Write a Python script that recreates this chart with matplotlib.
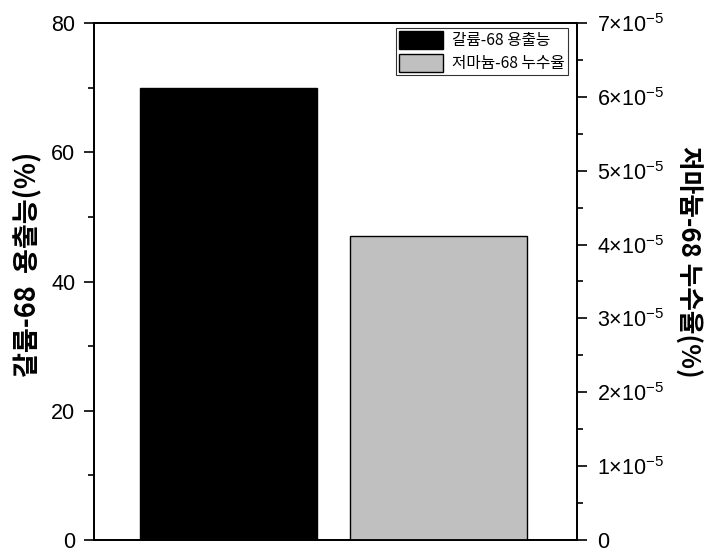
import matplotlib
matplotlib.use("Agg")
import matplotlib.pyplot as plt
from matplotlib.ticker import MultipleLocator, FuncFormatter
from matplotlib.patches import Patch

plt.rcParams['font.family'] = ['Liberation Sans', 'Noto Sans CJK KR', 'DejaVu Sans']
plt.rcParams['mathtext.fontset'] = 'custom'
plt.rcParams['mathtext.rm'] = 'Liberation Sans'
plt.rcParams['mathtext.it'] = 'Liberation Sans'

labels = ['갈륨-68 용출능', '저마늄-68 누수율']
elution = 70.0          # left axis, %
breakthrough = 4.12e-5  # right axis, %
left_label = '갈륨-68  용출능(%)'
right_label = '저마늄-68 누수율(%)'

fig = plt.figure(figsize=(7.12, 5.58), dpi=100)
ax = fig.add_axes([94/712, 1-540/558, (577-94)/712, (540-23)/558])
ax2 = ax.twinx()

ax.bar([0], [elution], width=0.84, color='black', edgecolor='black', linewidth=1, zorder=2)
ax2.bar([1], [breakthrough], width=0.84, color='#c0c0c0', edgecolor='black', linewidth=1, zorder=2)

ax.set_xlim(-0.64, 1.66)
ax.set_ylim(0, 80)
ax2.set_ylim(0, 7e-5)
ax.set_xticks([])

ax.yaxis.set_major_locator(MultipleLocator(20))
ax.yaxis.set_minor_locator(MultipleLocator(10))
ax2.yaxis.set_major_locator(MultipleLocator(1e-5))
ax2.yaxis.set_minor_locator(MultipleLocator(0.5e-5))

def sci(v, pos):
    n = int(round(v / 1e-5))
    if n == 0:
        return '0'
    return r'$%d{\times}10^{-5}$' % n

ax2.yaxis.set_major_formatter(FuncFormatter(sci))

for a in (ax, ax2):
    a.tick_params(axis='y', which='major', direction='out', length=7.5, width=1.2, labelsize=15.5, pad=6)
    a.tick_params(axis='y', which='minor', direction='out', length=4.5, width=1.2)
    for s in a.spines.values():
        s.set_linewidth(1.3)
ax2.tick_params(axis='y', which='major', labelsize=15.5, pad=7)

kr = ['Noto Sans CJK KR', 'DejaVu Sans']
fig.text(27/712, 1-264/558, left_label, rotation=90, ha='center', va='center',
         fontsize=19.5, fontweight='bold', family=kr)
fig.text(688/712, 1-262/558, right_label, rotation=-90, ha='center', va='center',
         fontsize=18.5, fontweight='bold', family=kr)

handles = [Patch(facecolor='black', edgecolor='black', label=labels[0]),
           Patch(facecolor='#c0c0c0', edgecolor='black', label=labels[1])]
leg = ax.legend(handles=handles, loc='upper right',
                bbox_to_anchor=((568-94)/483, (540-28)/517),
                prop={'family': kr, 'size': 11.3},
                frameon=True, fancybox=False, edgecolor='black', handlelength=2.8, handleheight=1.35,
                borderpad=0.2, labelspacing=0.3, handletextpad=0.6, borderaxespad=0)
leg.get_frame().set_linewidth(0.8)

fig.savefig('out.png', dpi=100)
